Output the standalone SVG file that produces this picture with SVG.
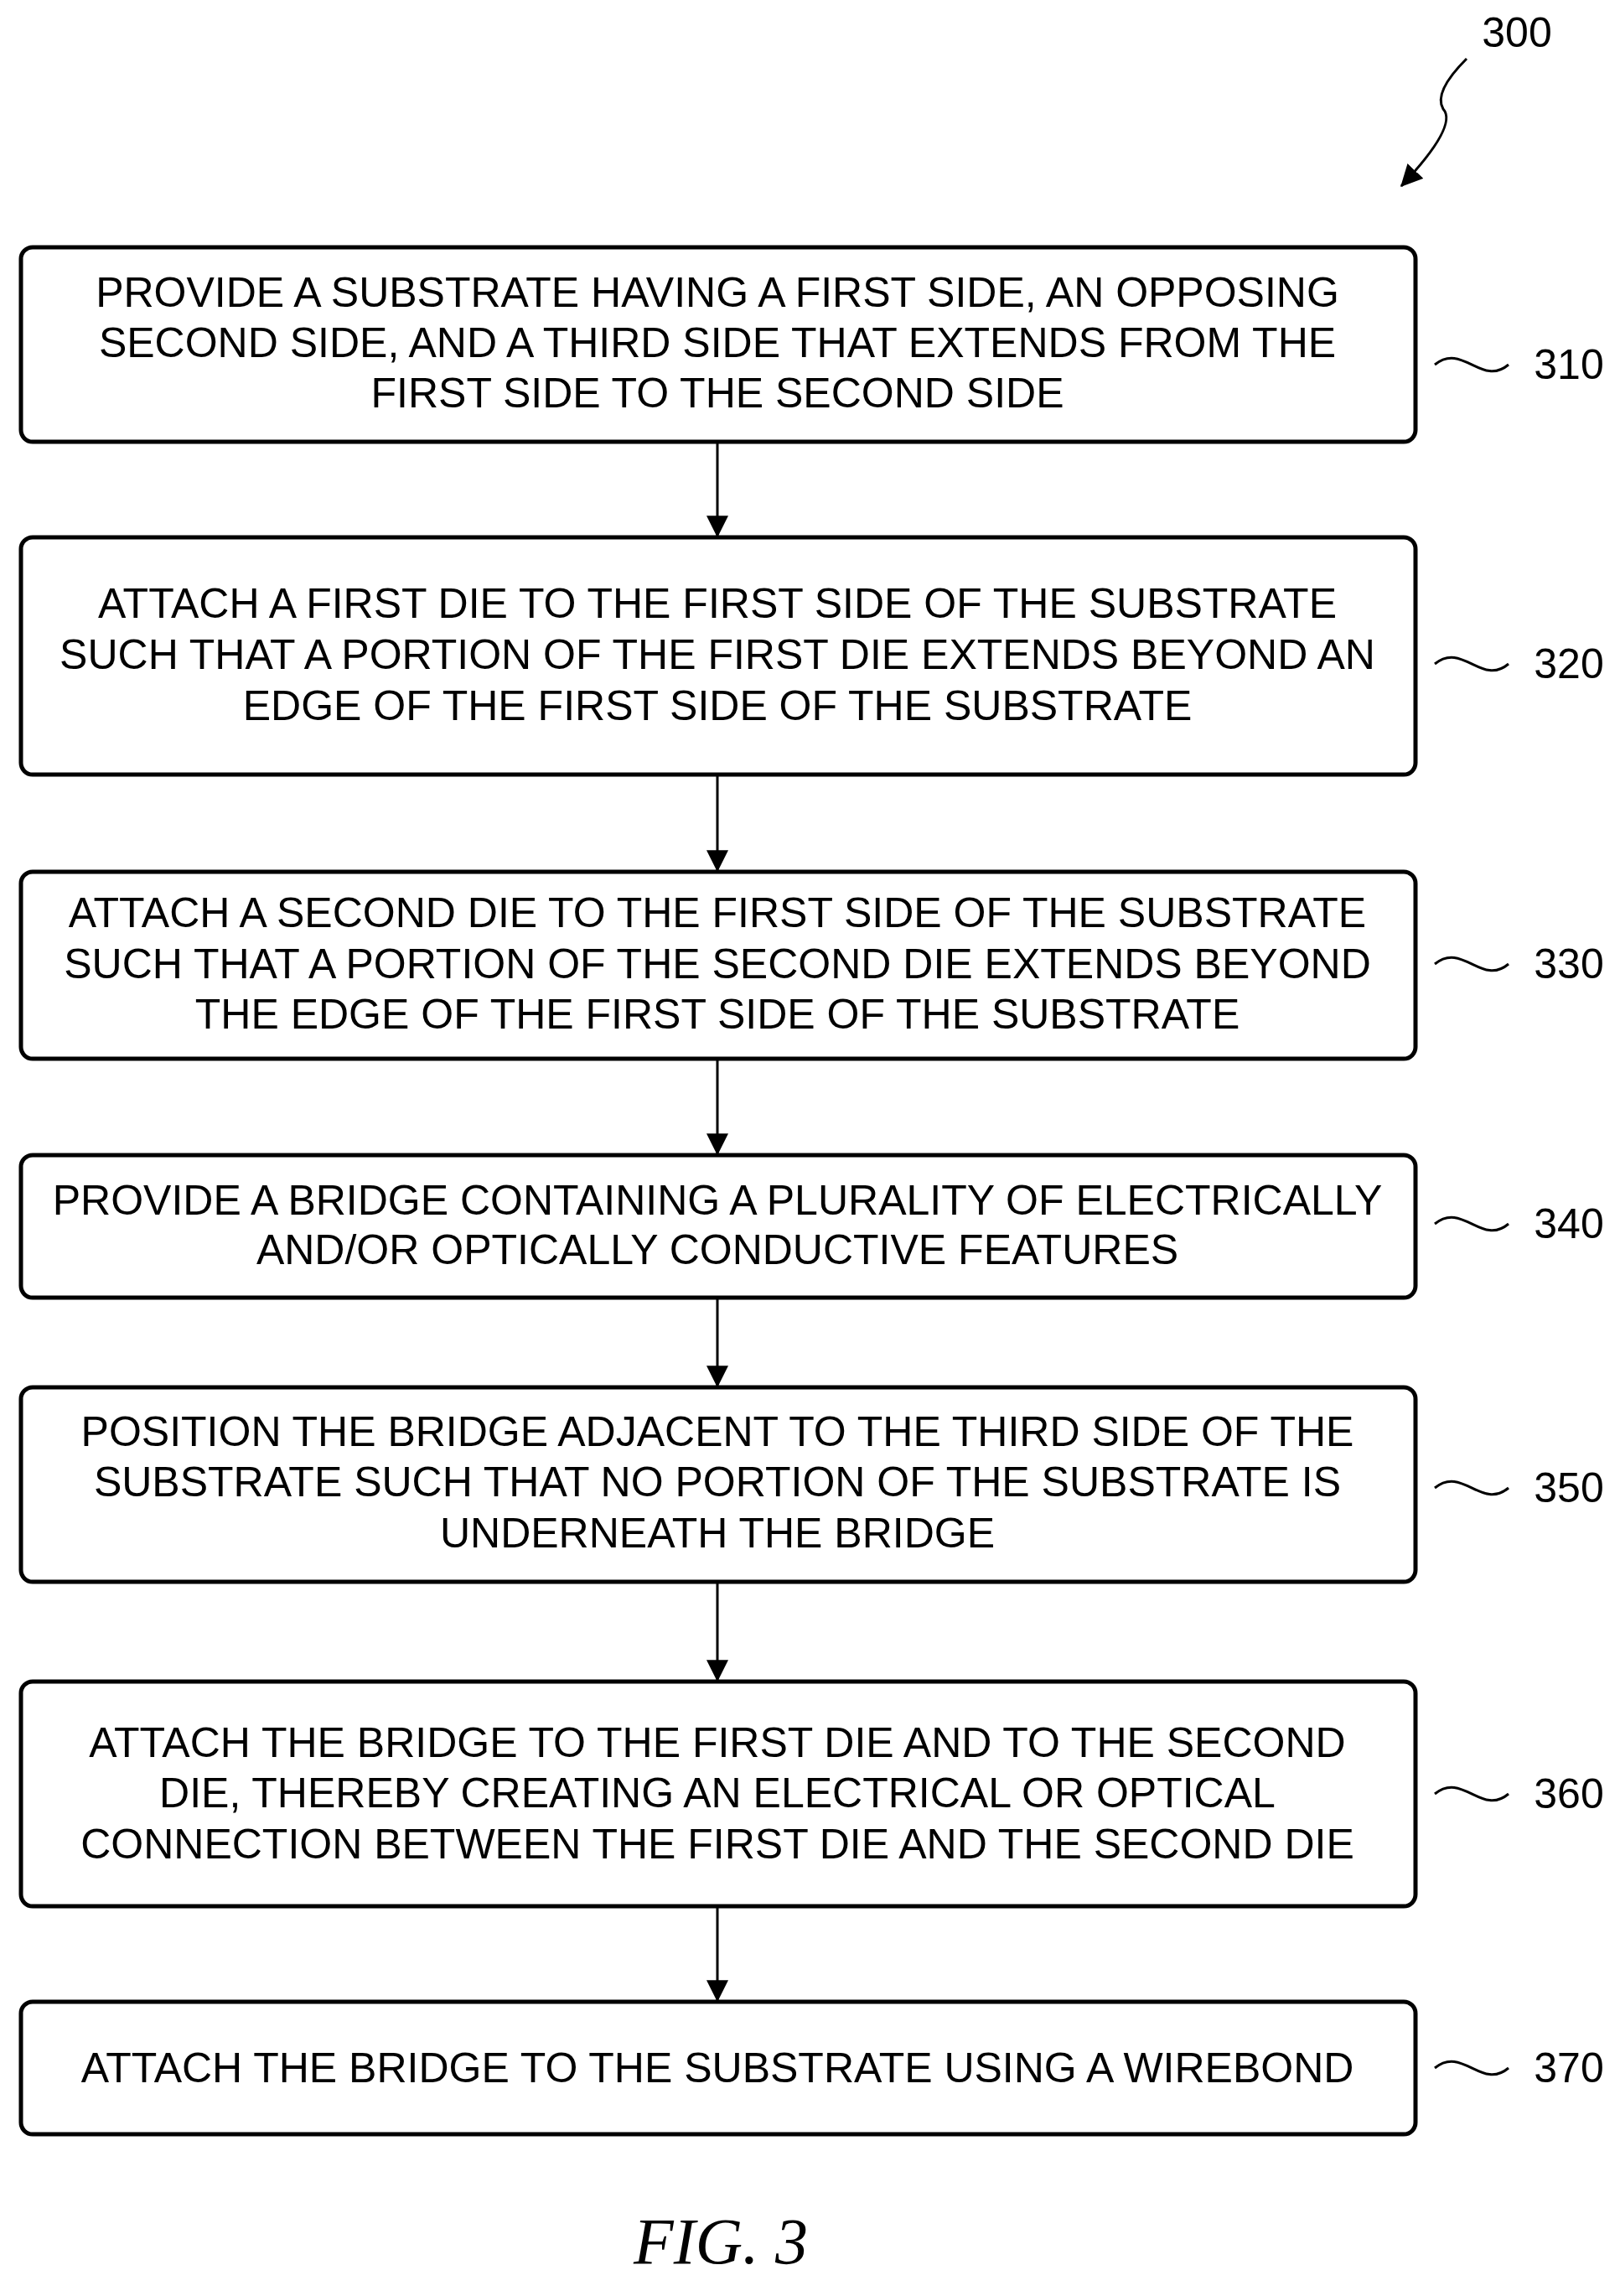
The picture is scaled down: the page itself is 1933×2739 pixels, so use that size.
<svg xmlns="http://www.w3.org/2000/svg" width="1933" height="2739" viewBox="0 0 1933 2739">
<style>
.box{fill:#fff;stroke:#000;stroke-width:5}
.t{font-family:"Liberation Sans",Arial,sans-serif;font-size:50px;text-anchor:middle;fill:#000}
.lb{font-family:"Liberation Sans",Arial,sans-serif;font-size:50px;text-anchor:middle;fill:#000}
.sq{fill:none;stroke:#000;stroke-width:3}
.c{stroke:#000;stroke-width:3;fill:none}
</style>
<defs>
<marker id="a2" viewBox="0 0 20 20" refX="19" refY="10" markerWidth="26" markerHeight="26" orient="auto" markerUnits="userSpaceOnUse"><path d="M0,0 L20,10 L0,20 z" fill="#000"/></marker></defs>
<rect x="0" y="0" width="1933" height="2739" fill="#fff"/>
<g id="connectors">
<line class="c" x1="856" y1="527" x2="856" y2="640" marker-end="url(#a2)"/>
<line class="c" x1="856" y1="924" x2="856" y2="1039" marker-end="url(#a2)"/>
<line class="c" x1="856" y1="1263" x2="856" y2="1377" marker-end="url(#a2)"/>
<line class="c" x1="856" y1="1548" x2="856" y2="1654" marker-end="url(#a2)"/>
<line class="c" x1="856" y1="1887" x2="856" y2="2005" marker-end="url(#a2)"/>
<line class="c" x1="856" y1="2274" x2="856" y2="2387" marker-end="url(#a2)"/>
</g>
<g id="ref300">
<text class="lb" x="1810" y="56">300</text>
<path class="c" d="M1750,70 Q1710,110 1722,130 Q1740,150 1672,222" marker-end="url(#a2)"/>
</g>
<g id="n310"><rect class="box" x="25" y="295" width="1664" height="232" rx="14"/>
<text class="t" x="856" y="366">PROVIDE A SUBSTRATE HAVING A FIRST SIDE, AN OPPOSING</text>
<text class="t" x="856" y="426">SECOND SIDE, AND A THIRD SIDE THAT EXTENDS FROM THE</text>
<text class="t" x="856" y="486">FIRST SIDE TO THE SECOND SIDE</text>
<path class="sq" d="M1712,435 C1745,408 1768,462 1800,435"/><text class="lb" x="1872" y="452">310</text></g>
<g id="n320"><rect class="box" x="25" y="641" width="1664" height="283" rx="14"/>
<text class="t" x="856" y="737">ATTACH A FIRST DIE TO THE FIRST SIDE OF THE SUBSTRATE</text>
<text class="t" x="856" y="798">SUCH THAT A PORTION OF THE FIRST DIE EXTENDS BEYOND AN</text>
<text class="t" x="856" y="859">EDGE OF THE FIRST SIDE OF THE SUBSTRATE</text>
<path class="sq" d="M1712,792 C1745,765 1768,819 1800,792"/><text class="lb" x="1872" y="809">320</text></g>
<g id="n330"><rect class="box" x="25" y="1040" width="1664" height="223" rx="14"/>
<text class="t" x="856" y="1106">ATTACH A SECOND DIE TO THE FIRST SIDE OF THE SUBSTRATE</text>
<text class="t" x="856" y="1167">SUCH THAT A PORTION OF THE SECOND DIE EXTENDS BEYOND</text>
<text class="t" x="856" y="1227">THE EDGE OF THE FIRST SIDE OF THE SUBSTRATE</text>
<path class="sq" d="M1712,1150 C1745,1123 1768,1177 1800,1150"/><text class="lb" x="1872" y="1167">330</text></g>
<g id="n340"><rect class="box" x="25" y="1378" width="1664" height="170" rx="14"/>
<text class="t" x="856" y="1449">PROVIDE A BRIDGE CONTAINING A PLURALITY OF ELECTRICALLY</text>
<text class="t" x="856" y="1508">AND/OR OPTICALLY CONDUCTIVE FEATURES</text>
<path class="sq" d="M1712,1460 C1745,1433 1768,1487 1800,1460"/><text class="lb" x="1872" y="1477">340</text></g>
<g id="n350"><rect class="box" x="25" y="1655" width="1664" height="232" rx="14"/>
<text class="t" x="856" y="1725">POSITION THE BRIDGE ADJACENT TO THE THIRD SIDE OF THE</text>
<text class="t" x="856" y="1785">SUBSTRATE SUCH THAT NO PORTION OF THE SUBSTRATE IS</text>
<text class="t" x="856" y="1846">UNDERNEATH THE BRIDGE</text>
<path class="sq" d="M1712,1775 C1745,1748 1768,1802 1800,1775"/><text class="lb" x="1872" y="1792">350</text></g>
<g id="n360"><rect class="box" x="25" y="2006" width="1664" height="268" rx="14"/>
<text class="t" x="856" y="2096">ATTACH THE BRIDGE TO THE FIRST DIE AND TO THE SECOND</text>
<text class="t" x="856" y="2156">DIE, THEREBY CREATING AN ELECTRICAL OR OPTICAL</text>
<text class="t" x="856" y="2217">CONNECTION BETWEEN THE FIRST DIE AND THE SECOND DIE</text>
<path class="sq" d="M1712,2140 C1745,2113 1768,2167 1800,2140"/><text class="lb" x="1872" y="2157">360</text></g>
<g id="n370"><rect class="box" x="25" y="2388" width="1664" height="158" rx="14"/>
<text class="t" x="856" y="2484">ATTACH THE BRIDGE TO THE SUBSTRATE USING A WIREBOND</text>
<path class="sq" d="M1712,2467 C1745,2440 1768,2494 1800,2467"/><text class="lb" x="1872" y="2484">370</text></g>
<text x="860" y="2700" font-family="Liberation Serif,serif" font-style="italic" font-size="78" text-anchor="middle">FIG. 3</text>
</svg>
